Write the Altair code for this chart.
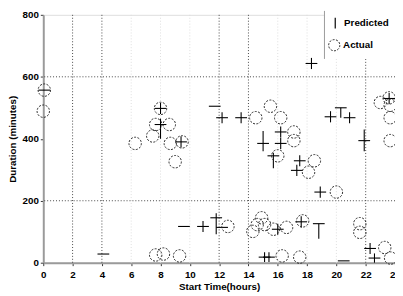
import altair as alt
import pandas as pd

# ---- axis ticks / grid ----
x_ticks = [0, 2, 4, 6, 8, 10, 12, 14, 16, 18, 20, 22, 24]
y_ticks = [0, 200, 400, 600, 800]
grid_x_strong = [2, 4, 12, 14, 22]
grid_x_faint = [6, 8, 10, 16, 18, 20]
grid_y_strong = [200, 600]

# ---- Predicted (value with error range) ----
pred_hour = [0.07, 8.0, 8.0, 9.4, 11.7, 12.2, 13.5, 15.0, 16.2, 16.2, 18.3, 19.6, 20.3, 20.9, 21.9, 23.6,
             15.7, 17.5, 17.3, 18.9,
             9.6, 10.9, 11.8, 12.2, 16.0, 17.6, 18.8,
             4.1, 15.1, 15.4, 20.5, 22.3, 22.6]
pred_dur = [557, 498, 446, 390, 505, 468, 468, 385, 422, 385, 643, 471, 500, 468, 394, 530,
            345, 329, 298, 228,
            117, 117, 145, 114, 108, 132, 126,
            28, 18, 18, 6, 46, 15]
pred_low = [557, 480, 400, 372, 505, 450, 450, 360, 404, 367, 625, 453, 468, 450, 360, 512,
            305, 311, 280, 210,
            117, 99, 92, 114, 90, 114, 77,
            28, 2, 2, 6, 28, 0]
pred_high = [557, 516, 465, 408, 505, 486, 486, 425, 440, 403, 661, 489, 500, 486, 430, 548,
             355, 347, 316, 246,
             117, 135, 160, 114, 126, 150, 126,
             28, 34, 34, 6, 64, 30]

# ---- Actual ----
actual_hour = [0.07, 0.0, 6.27, 8.0, 7.67, 8.6, 7.47, 8.67, 9.47, 9.0, 7.67, 8.2, 9.3,
               12.6, 14.5, 15.5, 16.2, 17.1, 17.1, 16.0, 18.5, 18.1, 20.0,
               14.3, 14.6, 14.9, 15.1, 15.7, 16.6, 17.7, 21.6, 21.6, 16.3, 17.5,
               23.3, 23.7, 23.0, 23.6, 23.67, 23.67, 23.67]
actual_dur = [557, 489, 385, 498, 446, 446, 409, 385, 390, 326, 25, 28, 22,
              117, 468, 505, 468, 422, 394, 345, 329, 292, 228,
              101, 123, 145, 123, 108, 114, 135, 126, 98, 22, 18,
              49, 15, 517, 532, 508, 468, 394]

legend_labels = ["Predicted", "Actual"]

pred = pd.DataFrame({"hour": pred_hour, "dur": pred_dur, "low": pred_low, "high": pred_high})
act = pd.DataFrame({"hour": actual_hour, "dur": actual_dur})
one = pd.DataFrame({"k": [0]})

FONT = "Liberation Sans"
xs = alt.Scale(domain=[0, 24], nice=False, zero=False)
ys = alt.Scale(domain=[0, 800], nice=False)

axis_common = dict(grid=False, domainColor="#9a9a9a", domainWidth=2, tickColor="#333333",
                   tickSize=3, labelFont=FONT, labelFontSize=10, labelFontWeight="bold",
                   labelColor="black", titleFont=FONT, titleFontSize=10, titleFontWeight="bold",
                   titleColor="black", labelFlush=False)
XT = "Start Time(hours)"
YT = "Duration (minutes)"
xaxis = alt.Axis(values=x_ticks, labelPadding=4, titlePadding=2, **axis_common)
yaxis = alt.Axis(values=y_ticks, labelPadding=2, titlePadding=5, **axis_common)


def X(field):
    return alt.X(field, scale=xs, axis=xaxis, title=XT)


def Y(field):
    return alt.Y(field, scale=ys, axis=yaxis, title=YT)


gx_faint = alt.Chart(pd.DataFrame({"gx": grid_x_faint})).mark_rule(
    color="#dddddd", strokeDash=[1, 2], strokeWidth=1
).encode(x=X("gx:Q"))
gx_strong = alt.Chart(pd.DataFrame({"gx": grid_x_strong})).mark_rule(
    color="#444444", strokeDash=[1, 2], strokeWidth=1
).encode(x=X("gx:Q"))
gy_strong = alt.Chart(pd.DataFrame({"gy": grid_y_strong})).mark_rule(
    color="#444444", strokeDash=[1, 2], strokeWidth=1
).encode(y=Y("gy:Q"))

pred_rng = alt.Chart(pred).mark_rule(color="black", strokeWidth=1.1).encode(
    x=X("hour:Q"), y=Y("low:Q"), y2="high:Q",
)
pred_bar = alt.Chart(pred).mark_point(
    shape="M-1,0L1,0", size=144, filled=False, color="black", strokeWidth=1.1, opacity=1
).encode(x=X("hour:Q"), y=Y("dur:Q"))

actual = alt.Chart(act).mark_point(
    shape="circle", size=160, filled=False, color="#222222", strokeWidth=1,
    strokeDash=[2, 1.5], opacity=1
).encode(x=X("hour:Q"), y=Y("dur:Q"))

# ---- legend box ----
leg_bg = alt.Chart(one).mark_rect(color="white").encode(
    x=alt.value(287), x2=alt.value(365), y=alt.value(-4), y2=alt.value(45))
leg_border = alt.Chart(one).mark_rule(color="#9a9a9a", strokeWidth=1).encode(
    x=alt.value(287), y=alt.value(-4), y2=alt.value(45))
leg_pred = alt.Chart(one).mark_rule(color="black", strokeWidth=1.2).encode(
    x=alt.value(298), y=alt.value(3), y2=alt.value(14))
leg_act = alt.Chart(one).mark_point(
    shape="circle", size=130, filled=False, color="#222222", strokeWidth=1,
    strokeDash=[2, 1.5], opacity=1).encode(x=alt.value(297), y=alt.value(31))
leg_t1 = alt.Chart(one).mark_text(align="left", baseline="middle", font=FONT, fontSize=10,
                                  fontWeight="bold", color="black").encode(
    x=alt.value(307), y=alt.value(8), text=alt.value(legend_labels[0]))
leg_t2 = alt.Chart(one).mark_text(align="left", baseline="middle", font=FONT, fontSize=10,
                                  fontWeight="bold", color="black").encode(
    x=alt.value(306), y=alt.value(31), text=alt.value(legend_labels[1]))

chart = alt.layer(
    gx_faint, gx_strong, gy_strong, pred_rng, pred_bar, actual,
    leg_bg, leg_border, leg_pred, leg_act, leg_t1, leg_t2
).properties(
    width=359, height=253,
    autosize=alt.AutoSizeParams(type="none"),
    padding={"left": 36, "top": 4, "right": 0, "bottom": 31},
).configure_view(stroke=None).configure(background="white")

chart.save("out.html", embed_options={"renderer": "svg", "actions": False})
